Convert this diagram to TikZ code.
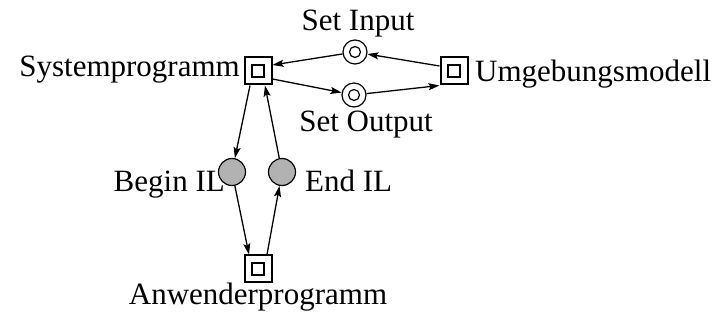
\documentclass[tikz,border=0pt]{standalone}
\usepackage{fontspec}
\setmainfont{Liberation Serif}
\usetikzlibrary{arrows.meta}

\begin{document}
\begin{tikzpicture}[x=1pt, y=-1pt,
        lbl/.style={font=\fontsize{31}{36}\selectfont, inner sep=0pt},
        trans/.style={draw, line width=2pt, minimum size=27pt, inner sep=0pt,
            path picture={\draw[line width=2pt] ([shift={(-6pt,-6pt)}]path picture bounding box.center) rectangle ([shift={(6pt,6pt)}]path picture bounding box.center);}},
        place/.style={circle, draw, line width=1.2pt, minimum size=24pt, inner sep=0pt},
        io/.style={place, path picture={\draw[line width=1.2pt] (path picture bounding box.center) circle (5.5pt);}},
        token/.style={place, minimum size=27pt, fill=black!30},
        arc/.style={line width=1.3pt, -{Stealth[length=11pt,width=7pt,inset=2pt]}}]
        \useasboundingbox (0,0) rectangle (720,320);

        % Transitions
        \node[trans] (sys) at (258,71) {};
        \node[trans] (umg) at (454,71) {};
        \node[trans] (anw) at (258,269) {};

        % Places
        \node[io] (sin) at (355,52) {};
        \node[io] (sout) at (354,95) {};
        \node[token] (bil) at (232,172) {};
        \node[token] (eil) at (282,172) {};

        % Labels
        \node[lbl, anchor=base east] (lsys) at (240,77) {Systemprogramm};
        \node[lbl, anchor=base west] (lumg) at (475,82) {Umgebungsmodell};
        \node[lbl, anchor=base] (lanw) at (258,305) {Anwenderprogramm};
        \node[lbl, anchor=base] (lsin) at (358,31) {Set Input};
        \node[lbl, anchor=base] (lsout) at (366,132) {Set Output};
        \node[lbl, anchor=base east] (lbil) at (225,192) {Begin IL};
        \node[lbl, anchor=base west] (leil) at (305,192) {End IL};

        % Arcs
        \draw[arc] ([yshift=5pt]umg.west) -- (sin);
        \draw[arc] (sin) -- ([yshift=6pt]sys.east);
        \draw[arc] ([yshift=-8pt]sys.east) -- (sout);
        \draw[arc] (sout) -- (umg.south west);
        \draw[arc] ([xshift=-8pt]sys.south) -- (bil);
        \draw[arc] (bil) -- ([xshift=-9pt]anw.north);
        \draw[arc] ([xshift=9pt]anw.north) -- (eil);
        \draw[arc] (eil) -- ([xshift=7pt]sys.south);
\end{tikzpicture}
\end{document}
